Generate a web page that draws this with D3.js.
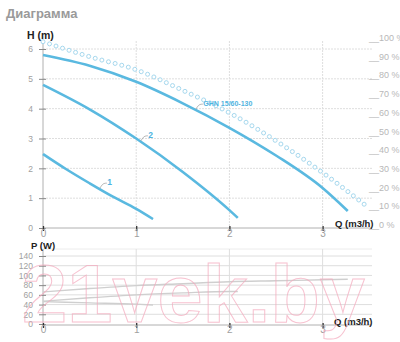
<!DOCTYPE html>
<html>
<head>
<meta charset="utf-8">
<script src="https://cdn.jsdelivr.net/npm/d3@7/dist/d3.min.js"></script>
<style>
  html, body { margin: 0; padding: 0; background: #fff; }
  svg { display: block; font-family: "Liberation Sans", Arial, sans-serif; }
</style>
</head>
<body>
<svg id="chart" width="400" height="342"></svg>
<script>
// Pump head curves for the three speed settings (Q in m3/h, H in m)
const q1 = [0, 0.25, 0.5, 0.75, 1, 1.18];
const h1 = [2.48, 1.97, 1.5, 1.05, 0.64, 0.3];
const q2 = [0, 0.5, 1, 1.5, 2, 2.09];
const h2 = [4.8, 3.98, 3.0, 1.88, 0.6, 0.34];
const q3 = [0, 0.5, 1, 1.5, 2, 2.5, 3, 3.27];
const h3 = [5.8, 5.44, 4.9, 4.18, 3.36, 2.43, 1.34, 0.57];

// Efficiency curve (%), right-hand scale
const qEff = [0, 0.5, 1, 1.5, 2, 2.5, 3, 3.5];
const eff = [98, 90, 83, 72, 60, 45, 28, 9];

// Power input (W) for each speed
const qP1 = [0, 0.5, 1, 1.18];
const p1 = [46, 43.5, 41, 39];
const qP2 = [0, 0.5, 1, 1.5, 2, 2.09];
const p2 = [47, 54, 60, 64, 67, 67];
const qP3 = [0, 0.5, 1, 1.5, 2, 2.5, 3, 3.27];
const p3 = [66, 73, 79, 83, 87, 89, 91, 92];

// Tick labels
const qTicks = [0, 1, 2, 3];
const hTicks = [0, 1, 2, 3, 4, 5, 6];
const effTicks = [0, 10, 20, 30, 40, 50, 60, 70, 80, 90, 100];
const pTicks = [0, 20, 40, 60, 80, 100, 120, 140];

// Curve labels: text and flow at which the leader touches the curve
const curveLabels = [
  { text: "1", q: q1, h: h1, at: 0.61 },
  { text: "2", q: q2, h: h2, at: 1.05 },
  { text: "GHN 15/60-130", q: q3, h: h3, at: 1.64 }
];

const svg = d3.select("#chart");
const curveColor = "#5ab9e0";
const gridColor = "#dedede";
const labelGrey = "#a0a0a0";

const x = d3.scaleLinear().domain([0, 3]).range([43, 322.6]);
const xRight = 372;
const yH = d3.scaleLinear().domain([0, 6]).range([228, 49]);
const yE = d3.scaleLinear().domain([0, 100]).range([225, 38]);
const yP = d3.scaleLinear().domain([0, 140]).range([324, 256]);

// Title
svg.append("text").attr("x", 6).attr("y", 18)
  .attr("font-size", 13).attr("font-weight", "bold").attr("fill", "#9a9a9a")
  .text("Диаграмма");

// ---------- Head chart ----------
const headG = svg.append("g");

// horizontal grid
headG.append("g").selectAll("line").data(hTicks.filter(d => d > 0)).join("line")
  .attr("x1", x(0)).attr("x2", xRight)
  .attr("y1", d => yH(d)).attr("y2", d => yH(d))
  .attr("stroke", gridColor).attr("stroke-dasharray", "2,1");
// vertical grid
headG.append("g").selectAll("line").data(qTicks.filter(d => d > 0)).join("line")
  .attr("x1", d => x(d)).attr("x2", d => x(d))
  .attr("y1", 41).attr("y2", yH(0))
  .attr("stroke", gridColor).attr("stroke-dasharray", "2,1");

// left axis
const axH = headG.append("g").attr("transform", `translate(${x(0)},0)`)
  .call(d3.axisLeft(yH).tickValues(hTicks).tickFormat(d3.format("d")).tickSize(4).tickPadding(6));
axH.select(".domain").attr("d", `M0,41V${yH(0)}`).attr("stroke", "#b0b0b0");
axH.selectAll(".tick line").attr("x1", -4).attr("x2", 3).attr("stroke", "#888");
axH.selectAll(".tick text").attr("font-size", 8.5).attr("fill", labelGrey)
  .attr("font-family", "Liberation Sans, Arial, sans-serif");

// bottom axis
const axQ = headG.append("g").attr("transform", `translate(0,${yH(0)})`)
  .call(d3.axisBottom(x).tickValues(qTicks).tickFormat(d3.format("d")).tickSize(3).tickPadding(0));
axQ.select(".domain").attr("d", `M${x(0)},0H${xRight}`).attr("stroke", "#b0b0b0");
axQ.selectAll(".tick line").attr("y1", -2).attr("y2", 3).attr("stroke", "#333").attr("stroke-width", 1.3);
axQ.selectAll(".tick text").attr("font-size", 10).attr("fill", labelGrey).attr("dy", "0.55em")
  .attr("font-family", "Liberation Sans, Arial, sans-serif");

// right efficiency labels
headG.append("g").selectAll("text").data(effTicks).join("text")
  .attr("x", 369).attr("y", d => yE(d) + 3)
  .attr("font-size", 9).attr("fill", "#b8b8b8")
  .text(d => "__" + d + " %");

// axis titles
headG.append("text").attr("x", 27).attr("y", 39).attr("font-size", 10.5)
  .attr("font-weight", "bold").attr("fill", "#222").text("H (m)");
headG.append("text").attr("x", 335).attr("y", 227).attr("font-size", 9.5)
  .attr("font-weight", "bold").attr("fill", "#222").text("Q (m3/h)");

// efficiency curve drawn as hollow dots spaced along the path
const effLine = d3.line().x((d, i) => x(qEff[i])).y(d => yE(d)).curve(d3.curveMonotoneX);
const effPath = headG.append("path").attr("d", effLine(eff)).attr("fill", "none").attr("stroke", "none");
const effNode = effPath.node();
const effLen = effNode.getTotalLength();
const dots = d3.range(0, effLen + 0.01, 6.85).map(l => effNode.getPointAtLength(l));
headG.append("g").selectAll("circle").data(dots).join("circle")
  .attr("cx", d => d.x).attr("cy", d => d.y).attr("r", 2)
  .attr("fill", "#fff").attr("stroke", "#a6d8ee").attr("stroke-width", 1);

// head curves
const headLine = q => d3.line().x((d, i) => x(q[i])).y(d => yH(d)).curve(d3.curveMonotoneX);
[[q1, h1], [q2, h2], [q3, h3]].forEach(([q, h]) => {
  headG.append("path").attr("d", headLine(q)(h))
    .attr("fill", "none").attr("stroke", curveColor).attr("stroke-width", 2.6);
});

// curve labels with small leader lines
curveLabels.forEach(lb => {
  const hy = d3.scaleLinear().domain(lb.q).range(lb.h);
  const px = x(lb.at), py = yH(hy(lb.at));
  headG.append("path")
    .attr("d", `M${px},${py - 1} C${px + 2},${py - 4} ${px + 3},${py - 6} ${px + 6},${py - 6} L${px + 7},${py - 6}`)
    .attr("fill", "none").attr("stroke", "#999").attr("stroke-width", 0.7);
  headG.append("text").attr("x", px + 7.5).attr("y", py - 4)
    .attr("font-size", lb.text.length > 2 ? 7 : 8.5).attr("font-weight", "bold")
    .attr("fill", "#4fb3e0").text(lb.text);
});

// ---------- Power chart ----------
const powG = svg.append("g");

powG.append("g").selectAll("line").data(pTicks.filter(d => d > 0)).join("line")
  .attr("x1", x(0)).attr("x2", xRight)
  .attr("y1", d => yP(d)).attr("y2", d => yP(d))
  .attr("stroke", gridColor);
powG.append("line").attr("x1", x(0)).attr("x2", xRight).attr("y1", 249).attr("y2", 249)
  .attr("stroke", "#ececec");
powG.append("g").selectAll("line").data(qTicks.filter(d => d > 0)).join("line")
  .attr("x1", d => x(d)).attr("x2", d => x(d))
  .attr("y1", 249).attr("y2", yP(0))
  .attr("stroke", gridColor);

const axP = powG.append("g").attr("transform", `translate(${x(0)},0)`)
  .call(d3.axisLeft(yP).tickValues(pTicks).tickSize(4).tickPadding(6));
axP.select(".domain").attr("d", `M0,249V${yP(0) + 1}`).attr("stroke", "#b0b0b0");
axP.selectAll(".tick line").attr("x1", -4).attr("x2", 3).attr("stroke", "#888");
axP.selectAll(".tick text").attr("font-size", 8.5).attr("fill", labelGrey)
  .attr("font-family", "Liberation Sans, Arial, sans-serif");

const axQ2 = powG.append("g").attr("transform", `translate(0,${yP(0) + 1})`)
  .call(d3.axisBottom(x).tickValues(qTicks).tickFormat(d3.format("d")).tickSize(3).tickPadding(0));
axQ2.select(".domain").attr("d", `M${x(0)},0H${xRight}`).attr("stroke", "#b0b0b0");
axQ2.selectAll(".tick line").attr("y1", -2).attr("y2", 3).attr("stroke", "#333").attr("stroke-width", 1.3);
axQ2.selectAll(".tick text").attr("font-size", 10).attr("fill", labelGrey).attr("dy", "0.45em")
  .attr("font-family", "Liberation Sans, Arial, sans-serif");

powG.append("text").attr("x", 31).attr("y", 249).attr("font-size", 9.5)
  .attr("font-weight", "bold").attr("fill", "#222").text("P (W)");
powG.append("text").attr("x", 334).attr("y", 325).attr("font-size", 9.5)
  .attr("font-weight", "bold").attr("fill", "#222").text("Q (m3/h)");

const powerLine = q => d3.line().x((d, i) => x(q[i])).y(d => yP(d)).curve(d3.curveMonotoneX);
[[qP1, p1], [qP2, p2], [qP3, p3]].forEach(([q, p]) => {
  powG.append("path").attr("d", powerLine(q)(p))
    .attr("fill", "none").attr("stroke", "#cfcfcf").attr("stroke-width", 1.4);
});

// watermark
svg.append("text").attr("x", 22).attr("y", 322)
  .attr("font-size", 82).attr("font-weight", "bold")
  .attr("textLength", 343).attr("lengthAdjust", "spacingAndGlyphs")
  .attr("fill", "none").attr("stroke", "#f5a9bd").attr("stroke-width", 1)
  .attr("opacity", 0.7)
  .text("21vek.by");
</script>
</body>
</html>
